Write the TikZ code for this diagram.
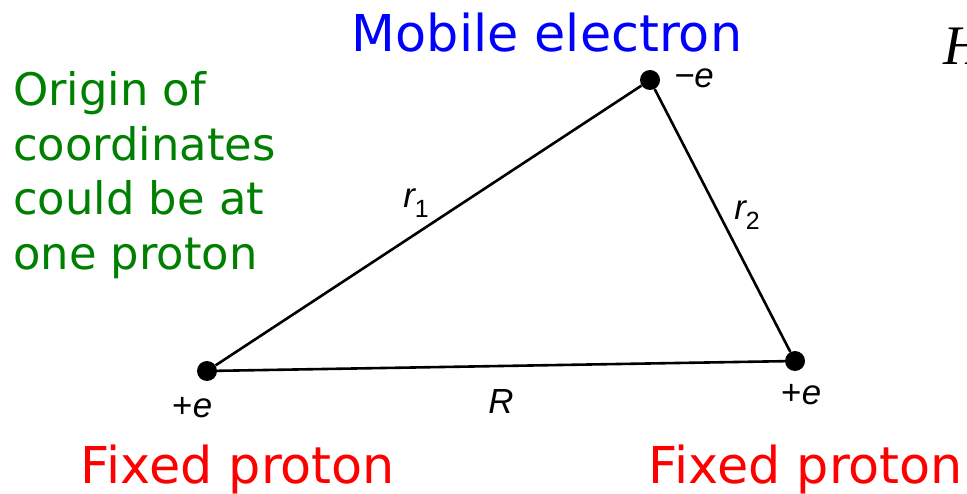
\documentclass[tikz,border=0pt]{standalone}
\usepackage{fontspec}
\setmainfont{Liberation Sans}
\newfontfamily\labelfont{Liberation Sans}
\newfontfamily\hfont{Liberation Serif}
\newfontfamily\notefont{DejaVu Sans}
\definecolor{mobileblue}{RGB}{0,0,255}
\definecolor{origingreen}{RGB}{0,128,0}
\definecolor{fixedred}{RGB}{255,0,0}
\newcommand{\lsub}[1]{\raisebox{-0.28em}{\fontsize{25}{28}\selectfont\upshape #1}}
\tikzset{
  charge/.style={circle,fill=black,inner sep=0pt,minimum size=20bp},
  side/.style={line width=2.6bp,black},
  sym/.style={font=\labelfont\itshape\fontsize{35}{40}\selectfont,inner sep=0pt,anchor=base},
  note/.style={font=\notefont\fontsize{51}{60}\selectfont,inner sep=0pt,anchor=base},
}
\begin{document}
\begin{tikzpicture}[x=1bp,y=-1bp]
\useasboundingbox (0,0) rectangle (967,494);
\clip (0,0) rectangle (967,494);
\node[charge] (p1) at (207,371) {};
\node[charge] (el) at (650,80) {};
\node[charge] (p2) at (795,361) {};
\draw[side] (p1) -- (el);
\draw[side] (el) -- (p2);
\draw[side] (p1) -- (p2);
\node[sym] (lp1) at (192,417) {+\kern1bp e};
\node[sym] (lel) at (694,88) {−e};
\node[sym] (lp2) at (801,404) {+\kern1bp e};
\node[sym] (lr1) at (416,208) {r\lsub{1}};
\node[sym] (lr2) at (747,220) {r\lsub{2}};
\node[sym] (lR) at (501,413) {R};
\node[font=\hfont\itshape\fontsize{56}{60}\selectfont,inner sep=0pt,anchor=base west] (H) at (943,65) {H};
\node[note,text=mobileblue] (mob) at (547,52) {Mobile electron};
\node[text=origingreen,align=left,anchor=north west,inner sep=0pt,font=\notefont\fontsize{45}{55}\selectfont] (orig) at (13,71) {Origin of\\coordinates\\could be at\\one proton};
\node[note,text=fixedred] (fp1) at (238,483) {Fixed proton};
\node[note,text=fixedred] (fp2) at (806,483) {Fixed proton};
\end{tikzpicture}
\end{document}
